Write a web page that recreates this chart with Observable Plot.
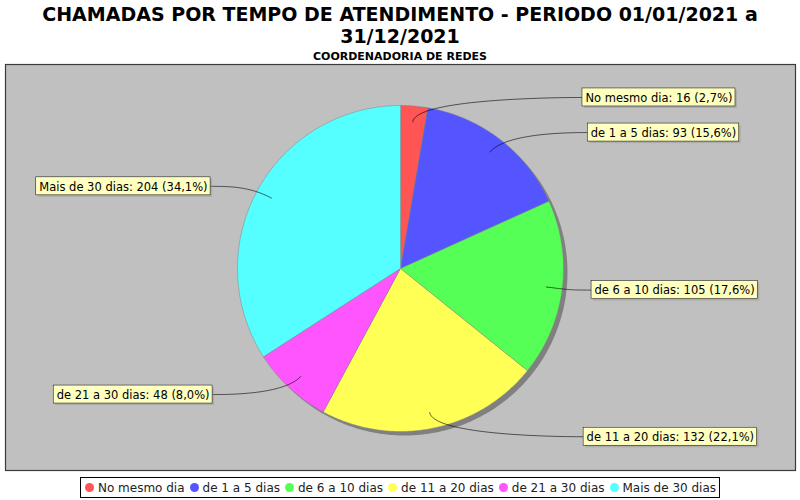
<!DOCTYPE html>
<html><head><meta charset="utf-8">
<script src="https://cdn.jsdelivr.net/npm/d3@7"></script>
<script src="https://cdn.jsdelivr.net/npm/@observablehq/plot@0.6"></script>
<style>
html,body{margin:0;padding:0;background:#fff;}
#page{position:relative;width:800px;height:500px;overflow:hidden;font-family:"DejaVu Sans",sans-serif;}
#title{position:absolute;left:0;top:3px;width:800px;text-align:center;font:bold 19px/22px "DejaVu Sans",sans-serif;color:#000;}
#subtitle{position:absolute;left:0;top:50px;width:800px;text-align:center;font:bold 11px/13px "DejaVu Sans",sans-serif;color:#000;}
#chart{position:absolute;left:0;top:62px;}
#legendwrap{position:absolute;left:0;top:477px;width:800px;display:flex;justify-content:center;}
#legend{display:flex;align-items:center;box-sizing:border-box;border:1px solid #000;background:#fff;height:21px;padding:0 3px 0 4px;font:12px "DejaVu Sans",sans-serif;color:#222;white-space:nowrap;}
#legend .it{display:flex;align-items:center;margin-right:5px;}
#legend .it:last-child{margin-right:0;}
#legend .sw{display:inline-block;width:9px;height:9px;border-radius:50%;margin-right:4px;}
</style>
</head><body>
<div id="page">
  <div id="title">CHAMADAS POR TEMPO DE ATENDIMENTO - PERIODO 01/01/2021 a<br>31/12/2021</div>
  <div id="subtitle">COORDENADORIA DE REDES</div>
  <div id="chart"></div>
  <div id="legendwrap"><div id="legend"></div></div>
</div>
<script>
// ---- data ----
const categories = ["No mesmo dia", "de 1 a 5 dias", "de 6 a 10 dias", "de 11 a 20 dias", "de 21 a 30 dias", "Mais de 30 dias"];
const counts = [16, 93, 105, 132, 48, 204];

// ---- style / layout ----
const colors = ["#ff5555", "#5555ff", "#55ff55", "#ffff55", "#ff55ff", "#55ffff"];
const W = 800, H = 412;            // svg size
const CX = 400, CY = 206, R = 163; // pie centre & radius (px)
const LINK_R = 0.902, ELBOW_R = 1.053; // in pie radii
const LABEL_FONT = "11.5px 'DejaVu Sans'";

const total = d3.sum(counts);
const fmtPct = v => d3.format(".1f")(v * 100).replace(".", ",") + "%";

// slices (angles clockwise from 12 o'clock)
let acc = 0;
const slices = categories.map((c, i) => {
  const a0 = acc / total * 2 * Math.PI; acc += counts[i];
  const a1 = acc / total * 2 * Math.PI;
  return {cat: c, value: counts[i], a0, a1, mid: (a0 + a1) / 2};
});
// unit coords: x right, y down, 1 = pie radius
const pt = (a, r) => ({x: r * Math.sin(a), y: -r * Math.cos(a)});

const slicePts = [];
for (const s of slices) {
  slicePts.push({cat: s.cat, ...pt(0, 0)});
  const n = Math.max(2, Math.ceil((s.a1 - s.a0) / (Math.PI / 360)));
  for (let k = 0; k <= n; k++) slicePts.push({cat: s.cat, ...pt(s.a0 + (s.a1 - s.a0) * k / n, 1)});
}
const discPts = d3.range(0, 721).map(k => pt(k / 720 * 2 * Math.PI, 1));

// text measuring
const ctx = document.createElement("canvas").getContext("2d");
ctx.font = LABEL_FONT;
const tw = t => ctx.measureText(t).width;

// labels
const labels = slices.map(s => {
  const text = `${s.cat}: ${s.value} (${fmtPct(s.value / total)})`;
  const right = Math.sin(s.mid) >= 0;
  const link = pt(s.mid, LINK_R), elbow = pt(s.mid, ELBOW_R);
  const ly = elbow.y;
  const anchorX = (right ? 1 : -1) * ELBOW_R;
  const gap = (9.5 + 10 * Math.abs(Math.sin(s.mid))) / R;
  const tx = anchorX + (right ? gap : -gap);
  const w = (tw(text) + 6) / R, h = 18 / R;
  const x1 = right ? tx : tx - w, x2 = right ? tx + w : tx;
  return {text, right, link, elbow, ly, anchorX, tx, x1, x2, y1: ly - h / 2, y2: ly + h / 2, textX: x1 + 3 / R};
});
// link curves: cubic bezier target -> anchor -> elbow -> link point
const linkPts = [];
labels.forEach((l, i) => {
  const P = [[l.tx, l.ly], [l.anchorX, l.ly], [l.elbow.x, l.elbow.y], [l.link.x, l.link.y]];
  for (let k = 0; k <= 40; k++) {
    const t = k / 40, u = 1 - t;
    const b = [u*u*u, 3*u*u*t, 3*u*t*t, t*t*t];
    linkPts.push({i, x: d3.sum(P, (p, j) => b[j] * p[0]), y: d3.sum(P, (p, j) => b[j] * p[1])});
  }
});

const chart = Plot.plot({
  width: W, height: H,
  marginLeft: 5, marginRight: 5, marginTop: 2, marginBottom: 4,
  x: {domain: [-CX / R, (W - CX) / R], range: [0, W], axis: null},
  y: {domain: [-CY / R, (H - CY) / R], range: [0, H], axis: null},
  color: {domain: categories, range: colors},
  style: {background: "transparent", overflow: "visible"},
  marks: [
    Plot.frame({fill: "#c0c0c0", stroke: "#3a3a3a", strokeWidth: 1.2}),
    Plot.line(discPts, {x: "x", y: "y", fill: "#808080", stroke: "none", curve: "linear-closed", dx: 4, dy: 4}),
    Plot.line(slicePts, {x: "x", y: "y", z: "cat", fill: "cat", stroke: "#808080", strokeWidth: 0.5, curve: "linear-closed"}),
    Plot.line(linkPts, {x: "x", y: "y", z: "i", stroke: "#000", strokeWidth: 0.6}),
    Plot.rect(labels, {x1: "x1", x2: "x2", y1: "y1", y2: "y2", fill: "#979797", fillOpacity: 0.5, dx: 2, dy: 2}),
    Plot.rect(labels, {x1: "x1", x2: "x2", y1: "y1", y2: "y2", fill: "#ffffc0", stroke: "#000", strokeWidth: 0.5}),
    Plot.text(labels, {x: "textX", y: "ly", text: "text", textAnchor: "start", fill: "#000", fontSize: 11.5, fontFamily: "DejaVu Sans", dy: 0.5})
  ]
});
document.getElementById("chart").appendChild(chart);

// legend
const lg = document.getElementById("legend");
categories.forEach((c, i) => {
  const it = document.createElement("span"); it.className = "it";
  const sw = document.createElement("span"); sw.className = "sw"; sw.style.background = colors[i];
  it.appendChild(sw); it.appendChild(document.createTextNode(c));
  lg.appendChild(it);
});
</script>
</body></html>
